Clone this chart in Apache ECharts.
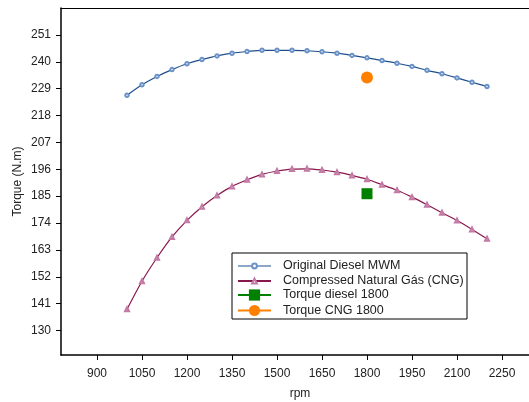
<!DOCTYPE html>
<html>
<head>
<meta charset="utf-8">
<script src="https://cdn.jsdelivr.net/npm/echarts@6/dist/echarts.min.js"></script>
<style>
  html, body { margin: 0; padding: 0; background: #fff; }
  #main { width: 529px; height: 402px; }
</style>
</head>
<body>
<div id="main"></div>
<script>
// rpm values for both curves
var rpm = [1000, 1050, 1100, 1150, 1200, 1250, 1300, 1350, 1400, 1450, 1500, 1550, 1600,
  1650, 1700, 1750, 1800, 1850, 1900, 1950, 2000, 2050, 2100, 2150, 2200]
var dieselTorque = [226.3, 230.6, 234.0, 236.8, 239.2, 240.9, 242.4, 243.5, 244.2, 244.7, 244.7, 244.7, 244.5,
  244.1, 243.5, 242.6, 241.6, 240.5, 239.4, 238.1, 236.5, 235.1, 233.4, 231.6, 229.9]
var cngTorque = [138.7, 150.2, 159.8, 168.3, 175.1, 180.7, 185.3, 189.0, 191.7, 193.9, 195.3, 196.1, 196.2,
  195.7, 194.8, 193.5, 191.9, 189.7, 187.4, 184.6, 181.5, 178.2, 175.0, 171.4, 167.6]
var dieselPoint = [1800, 186]
var cngPoint = [1800, 233.6]
var xTicks = [900, 1050, 1200, 1350, 1500, 1650, 1800, 1950, 2100, 2250]
var yTicks = [130, 141, 152, 163, 174, 185, 196, 207, 218, 229, 240, 251]

function pairs(xs, ys) {
  return xs.map(function (x, i) { return [x, ys[i]] })
}

var font = 'Liberation Sans, Arial, sans-serif'
var myChart = echarts.init(document.getElementById('main'))
myChart.setOption({
  animation: false,
  textStyle: { fontFamily: font },
  grid: { left: 61, right: 0, top: 8, bottom: 47, containLabel: false, outerBoundsMode: 'none' },
  xAxis: [{
    type: 'value',
    min: 780,
    max: 2340,
    name: 'rpm',
    nameLocation: 'middle',
    nameGap: 33,
    nameMoveOverlap: false,
    nameTextStyle: { fontSize: 12, color: '#222', fontFamily: font, padding: [0, 0, 0, 10] },
    axisLine: { onZero: false, lineStyle: { color: '#000', width: 1.5 } },
    axisTick: { customValues: xTicks, length: 5, lineStyle: { color: '#000' } },
    axisLabel: { customValues: xTicks, margin: 13, fontSize: 12, color: '#222',
      formatter: function (v) { return String(v) } },
    splitLine: { show: false }
  }, {
    type: 'value',
    position: 'top',
    min: 780,
    max: 2340,
    axisLine: { show: true, onZero: false, lineStyle: { color: '#000', width: 1 } },
    axisTick: { show: false },
    axisLabel: { show: false },
    splitLine: { show: false }
  }],
  yAxis: {
    type: 'value',
    min: 120,
    max: 262,
    name: 'Torque (N.m)',
    nameLocation: 'middle',
    nameGap: 37,
    nameMoveOverlap: false,
    nameTextStyle: { fontSize: 12, color: '#222', fontFamily: font },
    axisLine: { show: true, onZero: false, lineStyle: { color: '#000', width: 1.5 } },
    axisTick: { show: true, customValues: yTicks, length: 5, lineStyle: { color: '#000' } },
    axisLabel: { customValues: yTicks, margin: 10, fontSize: 12, color: '#222' },
    splitLine: { show: false }
  },
  graphic: [{
    type: 'rect',
    z: 3,
    shape: { x: 232, y: 253, width: 235, height: 66 },
    style: { fill: '#fff', stroke: '#000', lineWidth: 1 }
  }],
  legend: [{
    orient: 'vertical',
    left: 237,
    top: 259,
    padding: 0,
    itemGap: 1,
    itemWidth: 33,
    itemHeight: 6,
    z: 5,
    textStyle: { fontSize: 12.5, color: '#222', lineHeight: 14, padding: [0, 0, 0, 7], fontFamily: font },
    data: [
      { name: 'Original Diesel MWM', lineStyle: { width: 1, color: '#1d4f8c' } },
      { name: 'Compressed Natural Gás (CNG)', lineStyle: { width: 2, color: '#88184c' } }
    ]
  }, {
    orient: 'vertical',
    left: 237,
    top: 288,
    padding: 0,
    itemGap: 1.5,
    itemWidth: 33,
    itemHeight: 14,
    z: 5,
    textStyle: { fontSize: 12.5, color: '#222', lineHeight: 14, padding: [0, 0, 0, 7], fontFamily: font },
    data: [
      { name: 'Torque diesel 1800', lineStyle: { width: 2, color: '#008000' } },
      { name: 'Torque CNG 1800', lineStyle: { width: 2, color: '#ff8000' } }
    ]
  }],
  series: [{
    name: 'Original Diesel MWM',
    type: 'line',
    smooth: 0.3,
    data: pairs(rpm, dieselTorque),
    symbol: 'emptyCircle',
    symbolSize: 3.5,
    lineStyle: { color: '#1d4f8c', width: 1.2 },
    itemStyle: { color: '#6a92c8', borderWidth: 0.7 }
  }, {
    name: 'Compressed Natural Gás (CNG)',
    type: 'line',
    smooth: 0.3,
    data: pairs(rpm, cngTorque),
    symbol: 'emptyTriangle',
    symbolSize: 4,
    lineStyle: { color: '#88184c', width: 1.2 },
    itemStyle: { color: '#c27aa5', borderWidth: 0.6 }
  }, {
    name: 'Torque diesel 1800',
    type: 'line',
    data: [dieselPoint],
    symbol: 'rect',
    symbolSize: 11,
    lineStyle: { color: '#008000', width: 2 },
    itemStyle: { color: '#008000' }
  }, {
    name: 'Torque CNG 1800',
    type: 'line',
    data: [cngPoint],
    symbol: 'circle',
    symbolSize: 12,
    lineStyle: { color: '#ff8000', width: 2 },
    itemStyle: { color: '#ff8000' }
  }]
})
</script>
</body>
</html>
